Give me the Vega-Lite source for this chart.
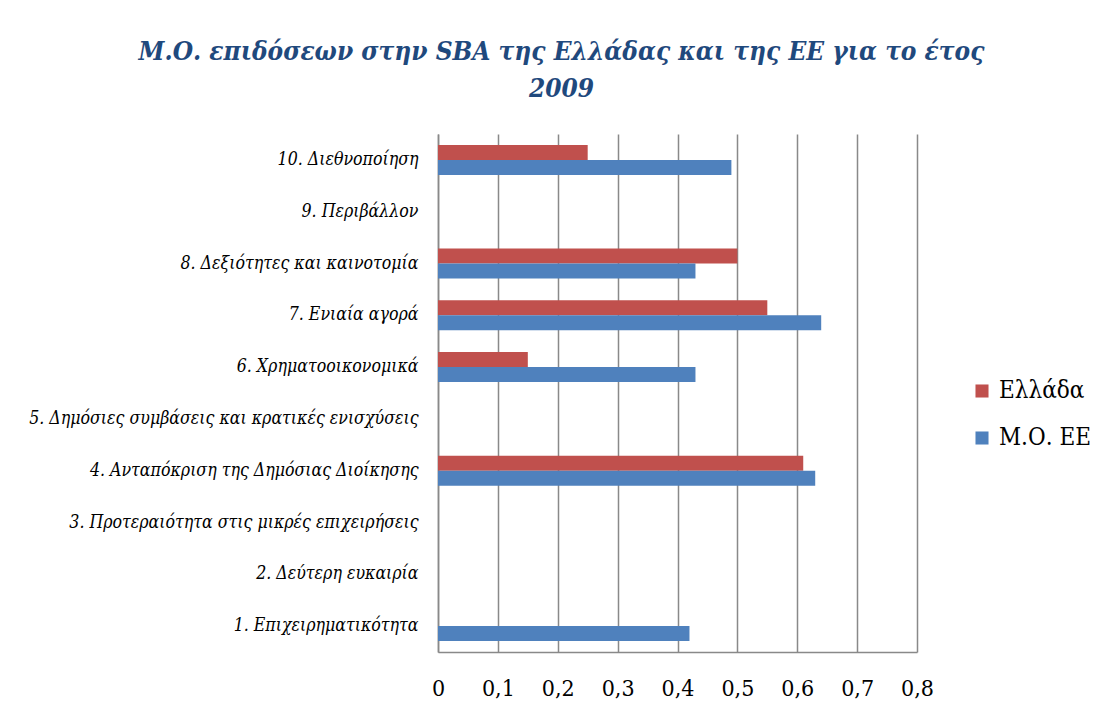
{
  "$schema": "https://vega.github.io/schema/vega-lite/v6.json",
  "autosize": "none",
  "width": 479,
  "height": 518,
  "padding": {"left": 438, "top": 134, "right": 195, "bottom": 59},
  "background": "white",
  "title": {
    "text": ["Μ.Ο. επιδόσεων στην SBA της Ελλάδας και της ΕΕ για το έτος", "2009"],
    "font": "DejaVu Serif Condensed",
    "fontSize": 26,
    "fontStyle": "italic",
    "fontWeight": "bold",
    "color": "#1F497D",
    "anchor": "middle",
    "frame": "group",
    "dx": -116,
    "offset": 32,
    "lineHeight": 37
  },
  "data": {
    "values": [
      {"category": "10. Διεθνοποίηση", "series": "Ελλάδα", "value": 0.25},
      {"category": "10. Διεθνοποίηση", "series": "Μ.Ο. ΕΕ", "value": 0.49},
      {"category": "8. Δεξιότητες και καινοτομία", "series": "Ελλάδα", "value": 0.5},
      {"category": "8. Δεξιότητες και καινοτομία", "series": "Μ.Ο. ΕΕ", "value": 0.43},
      {"category": "7. Ενιαία αγορά", "series": "Ελλάδα", "value": 0.55},
      {"category": "7. Ενιαία αγορά", "series": "Μ.Ο. ΕΕ", "value": 0.64},
      {"category": "6. Χρηματοοικονομικά", "series": "Ελλάδα", "value": 0.15},
      {"category": "6. Χρηματοοικονομικά", "series": "Μ.Ο. ΕΕ", "value": 0.43},
      {"category": "4. Ανταπόκριση της Δημόσιας Διοίκησης", "series": "Ελλάδα", "value": 0.61},
      {"category": "4. Ανταπόκριση της Δημόσιας Διοίκησης", "series": "Μ.Ο. ΕΕ", "value": 0.63},
      {"category": "1. Επιχειρηματικότητα", "series": "Μ.Ο. ΕΕ", "value": 0.42}
    ]
  },
  "mark": {"type": "bar"},
  "encoding": {
    "y": {
      "field": "category",
      "type": "nominal",
      "scale": {
        "domain": [
          "10. Διεθνοποίηση",
          "9. Περιβάλλον",
          "8. Δεξιότητες και καινοτομία",
          "7. Ενιαία αγορά",
          "6. Χρηματοοικονομικά",
          "5. Δημόσιες συμβάσεις και κρατικές ενισχύσεις",
          "4. Ανταπόκριση της Δημόσιας Διοίκησης",
          "3. Προτεραιότητα στις μικρές επιχειρήσεις",
          "2. Δεύτερη ευκαιρία",
          "1. Επιχειρηματικότητα"
        ],
        "paddingInner": 0.42,
        "paddingOuter": 0.21
      },
      "axis": {
        "title": null,
        "ticks": false,
        "labelPadding": 20,
        "labelFont": "DejaVu Serif Condensed",
        "labelFontStyle": "italic",
        "labelFontSize": 17.6,
        "labelColor": "#000000",
        "labelLimit": 0,
        "domainColor": "#898989",
        "domainWidth": 1.5,
        "grid": false
      }
    },
    "yOffset": {
      "field": "series",
      "type": "nominal",
      "scale": {"domain": ["Ελλάδα", "Μ.Ο. ΕΕ"], "paddingInner": 0, "paddingOuter": 0}
    },
    "x": {
      "field": "value",
      "type": "quantitative",
      "scale": {"domain": [0, 0.8], "nice": false},
      "axis": {
        "title": null,
        "values": [0, 0.1, 0.2, 0.3, 0.4, 0.5, 0.6, 0.7, 0.8],
        "labelExpr": "datum.value == 0 ? '0' : replace(format(datum.value, '.1f'), '.', ',')",
        "ticks": false,
        "labelPadding": 25,
        "labelFont": "DejaVu Serif Condensed",
        "labelFontSize": 23,
        "labelColor": "#000000",
        "labelFlush": false,
        "domainColor": "#898989",
        "domainWidth": 1.5,
        "grid": true,
        "gridColor": "#898989",
        "gridWidth": 1.5
      }
    },
    "color": {
      "field": "series",
      "type": "nominal",
      "scale": {"domain": ["Ελλάδα", "Μ.Ο. ΕΕ"], "range": ["#C0504D", "#4F81BD"]},
      "legend": {
        "title": null,
        "orient": "none",
        "legendX": 532,
        "legendY": 245,
        "symbolType": "square",
        "symbolSize": 170,
        "symbolStrokeWidth": 0,
        "labelFont": "DejaVu Serif Condensed",
        "labelFontSize": 24,
        "labelColor": "#000000",
        "labelOffset": 5,
        "rowPadding": 23
      }
    }
  },
  "config": {
    "view": {"stroke": null}
  }
}
